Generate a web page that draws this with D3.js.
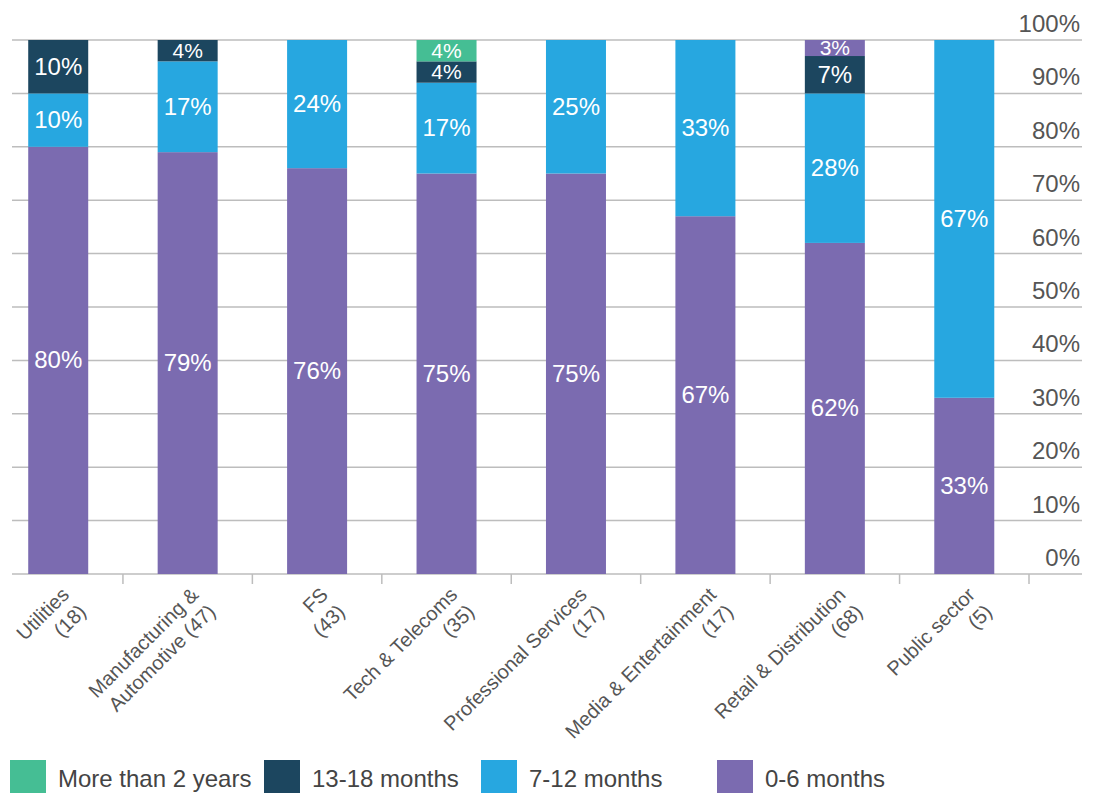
<!DOCTYPE html>
<html>
<head>
<meta charset="utf-8">
<script src="https://cdn.jsdelivr.net/npm/d3@7"></script>
<style>
  html, body { margin: 0; padding: 0; background: #fff; }
  svg { display: block; }
  text { font-family: "Liberation Sans", Arial, Helvetica, sans-serif; }
</style>
</head>
<body>
<svg id="chart" width="1097" height="793"></svg>
<script>
// ---- data ----
const categories = ["Utilities", "Manufacturing & Automotive", "FS", "Tech & Telecoms",
  "Professional Services", "Media & Entertainment", "Retail & Distribution", "Public sector"];
const respondents = [18, 47, 43, 35, 17, 17, 68, 5];
const labelLine1 = ["Utilities", "Manufacturing &", "FS", "Tech & Telecoms",
  "Professional Services", "Media & Entertainment", "Retail & Distribution", "Public sector"];
const labelLine2 = ["(18)", "Automotive (47)", "(43)", "(35)", "(17)", "(17)", "(68)", "(5)"];

const seriesNames = ["0-6 months", "7-12 months", "13-18 months", "More than 2 years"];
const months0to6   = [80, 79, 76, 75, 75, 67, 62, 33];
const months7to12  = [10, 17, 24, 17, 25, 33, 28, 67];
const months13to18 = [10, 4, 0, 4, 0, 0, 7, 0];
const moreThan2Yrs = [0, 0, 0, 4, 0, 0, 3, 0];
const yTicks = [0, 10, 20, 30, 40, 50, 60, 70, 80, 90, 100];
const legendOrder = ["More than 2 years", "13-18 months", "7-12 months", "0-6 months"];

// ---- styles / layout ----
const colors = {
  "0-6 months": "#7b6bb0",
  "7-12 months": "#27a7e0",
  "13-18 months": "#1c465f",
  "More than 2 years": "#45be94"
};
// the reference draws the Retail "More than 2 years" segment in the purple tone
const fillOverride = { "More than 2 years|Retail & Distribution": "#7b6bb0" };
const legendX = [10, 264, 481, 717];

const svg = d3.select("#chart");
const x = d3.scaleBand().domain(categories).range([-6.5, 1029]).paddingInner(0).paddingOuter(0);
const y = d3.scaleLinear().domain([0, 100]).range([574, 40]);
const barW = 60;
const gridLeft = 12, gridRight = 1082;

const table = categories.map((c, i) => ({
  cat: c,
  "0-6 months": months0to6[i],
  "7-12 months": months7to12[i],
  "13-18 months": months13to18[i],
  "More than 2 years": moreThan2Yrs[i]
}));
const stacked = d3.stack().keys(seriesNames)(table);

// gridlines
svg.append("g").selectAll("line").data(yTicks).join("line")
  .attr("x1", gridLeft).attr("x2", gridRight)
  .attr("y1", d => y(d)).attr("y2", d => y(d))
  .attr("stroke", "#bdbdbd").attr("stroke-width", 1.5);

// right axis labels
svg.append("g").selectAll("text").data(yTicks).join("text")
  .attr("x", 1080).attr("y", d => y(d) - 8)
  .attr("text-anchor", "end")
  .attr("font-size", 24).attr("fill", "#555")
  .text(d => d + "%");

// category tick marks at band boundaries
const boundaries = categories.slice(1).map(c => x(c)).concat([x(categories[categories.length - 1]) + x.bandwidth()]);
svg.append("g").selectAll("line").data(boundaries).join("line")
  .attr("x1", d => d).attr("x2", d => d)
  .attr("y1", y(0)).attr("y2", y(0) + 10)
  .attr("stroke", "#bdbdbd").attr("stroke-width", 1.5);

// bars
const layers = svg.append("g").selectAll("g").data(stacked).join("g");
layers.each(function(layer) {
  d3.select(this).selectAll("rect").data(layer.filter(s => s[1] - s[0] > 0)).join("rect")
    .attr("x", d => x(d.data.cat) + x.bandwidth() / 2 - barW / 2)
    .attr("width", barW)
    .attr("y", d => y(d[1]))
    .attr("height", d => y(d[0]) - y(d[1]))
    .attr("fill", d => fillOverride[layer.key + "|" + d.data.cat] || colors[layer.key]);
});

// bar labels
const labelG = svg.append("g");
stacked.forEach(layer => {
  layer.forEach(s => {
    const v = s[1] - s[0];
    if (v <= 0) return;
    const fs = v < 5 ? 21 : 24;
    labelG.append("text")
      .attr("x", x(s.data.cat) + x.bandwidth() / 2)
      .attr("y", (y(s[0]) + y(s[1])) / 2 + fs * 0.33)
      .attr("text-anchor", "middle")
      .attr("font-size", fs).attr("fill", "#fff")
      .text(v + "%");
  });
});

// category labels
const catG = svg.append("g").selectAll("g").data(categories).join("g")
  .attr("transform", d => `translate(${x(d) + x.bandwidth() / 2},584) rotate(-45)`);
catG.append("text").attr("x", 0).attr("y", 17).attr("text-anchor", "end")
  .attr("font-size", 20).attr("fill", "#555")
  .text((d, i) => labelLine1[i]);
catG.append("text").attr("x", 0).attr("y", 41).attr("text-anchor", "end")
  .attr("font-size", 20).attr("fill", "#555")
  .text((d, i) => labelLine2[i]);

// legend
const legend = svg.append("g");
legendOrder.forEach((name, i) => {
  legend.append("rect").attr("x", legendX[i]).attr("y", 760).attr("width", 36).attr("height", 36)
    .attr("fill", colors[name]);
  legend.append("text").attr("x", legendX[i] + 48).attr("y", 787)
    .attr("font-size", 24).attr("fill", "#444").text(name);
});
</script>
</body>
</html>
